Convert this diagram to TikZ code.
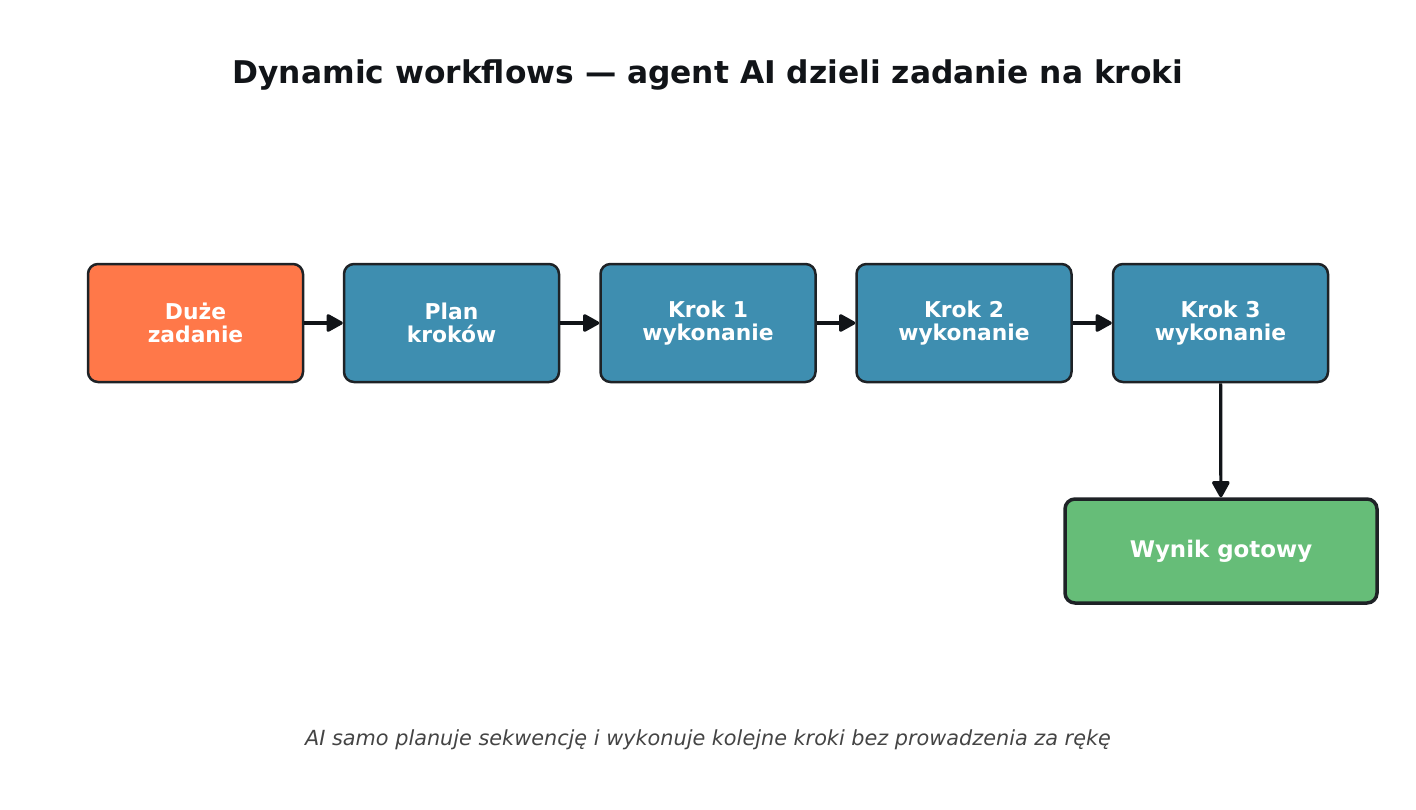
\documentclass[tikz,border=0pt]{standalone}
\usepackage{fontspec}
\setmainfont{DejaVu Sans}
\usetikzlibrary{arrows.meta}
\definecolor{orangeF}{HTML}{FF7849}
\definecolor{blueF}{HTML}{3E8EB0}
\definecolor{greenF}{HTML}{66BD78}
\definecolor{edgeC}{HTML}{1E2226}
\definecolor{arrC}{HTML}{111418}
\definecolor{titleC}{HTML}{111418}
\definecolor{footC}{HTML}{444444}
\tikzset{
  box/.style={draw=edgeC, line width=2.5pt, rounded corners=10pt, minimum width=215pt, minimum height=118pt, inner sep=0pt, align=center, text=white, font=\fontsize{21.8pt}{23.5pt}\selectfont\bfseries},
  flow/.style={draw=arrC, line width=3.2pt, -{Triangle[length=18pt,width=19pt, round]}}
}
\begin{document}
\begin{tikzpicture}[x=1pt,y=-1pt]
\useasboundingbox (0,0) rectangle (1416,809);
\node[font=\fontsize{31.3pt}{36pt}\selectfont\bfseries, text=titleC] (title) at (708,75) {Dynamic workflows — agent AI dzieli zadanie na kroki};
\node[box, fill=orangeF] (a) at (195.5,323) {Duże\\zadanie};
\node[box, fill=blueF] (b) at (451.5,323) {Plan\\kroków};
\node[box, fill=blueF] (c) at (708,323) {Krok 1\\wykonanie};
\node[box, fill=blueF] (d) at (964,323) {Krok 2\\wykonanie};
\node[box, fill=blueF] (e) at (1220.5,323) {Krok 3\\wykonanie};
\node[box, fill=greenF, line width=3.5pt, minimum width=312pt, minimum height=104pt, font=\fontsize{22.9pt}{26pt}\selectfont\bfseries] (f) at (1221,551) {Wynik gotowy};
\draw[flow] (a) -- (b);
\draw[flow] (b) -- (c);
\draw[flow] (c) -- (d);
\draw[flow] (d) -- (e);
\draw[flow] (e) -- (f);
\node[font=\fontsize{20.8pt}{24pt}\selectfont\itshape, text=footC] (foot) at (708,740) {AI samo planuje sekwencję i wykonuje kolejne kroki bez prowadzenia za rękę};
\end{tikzpicture}
\end{document}
